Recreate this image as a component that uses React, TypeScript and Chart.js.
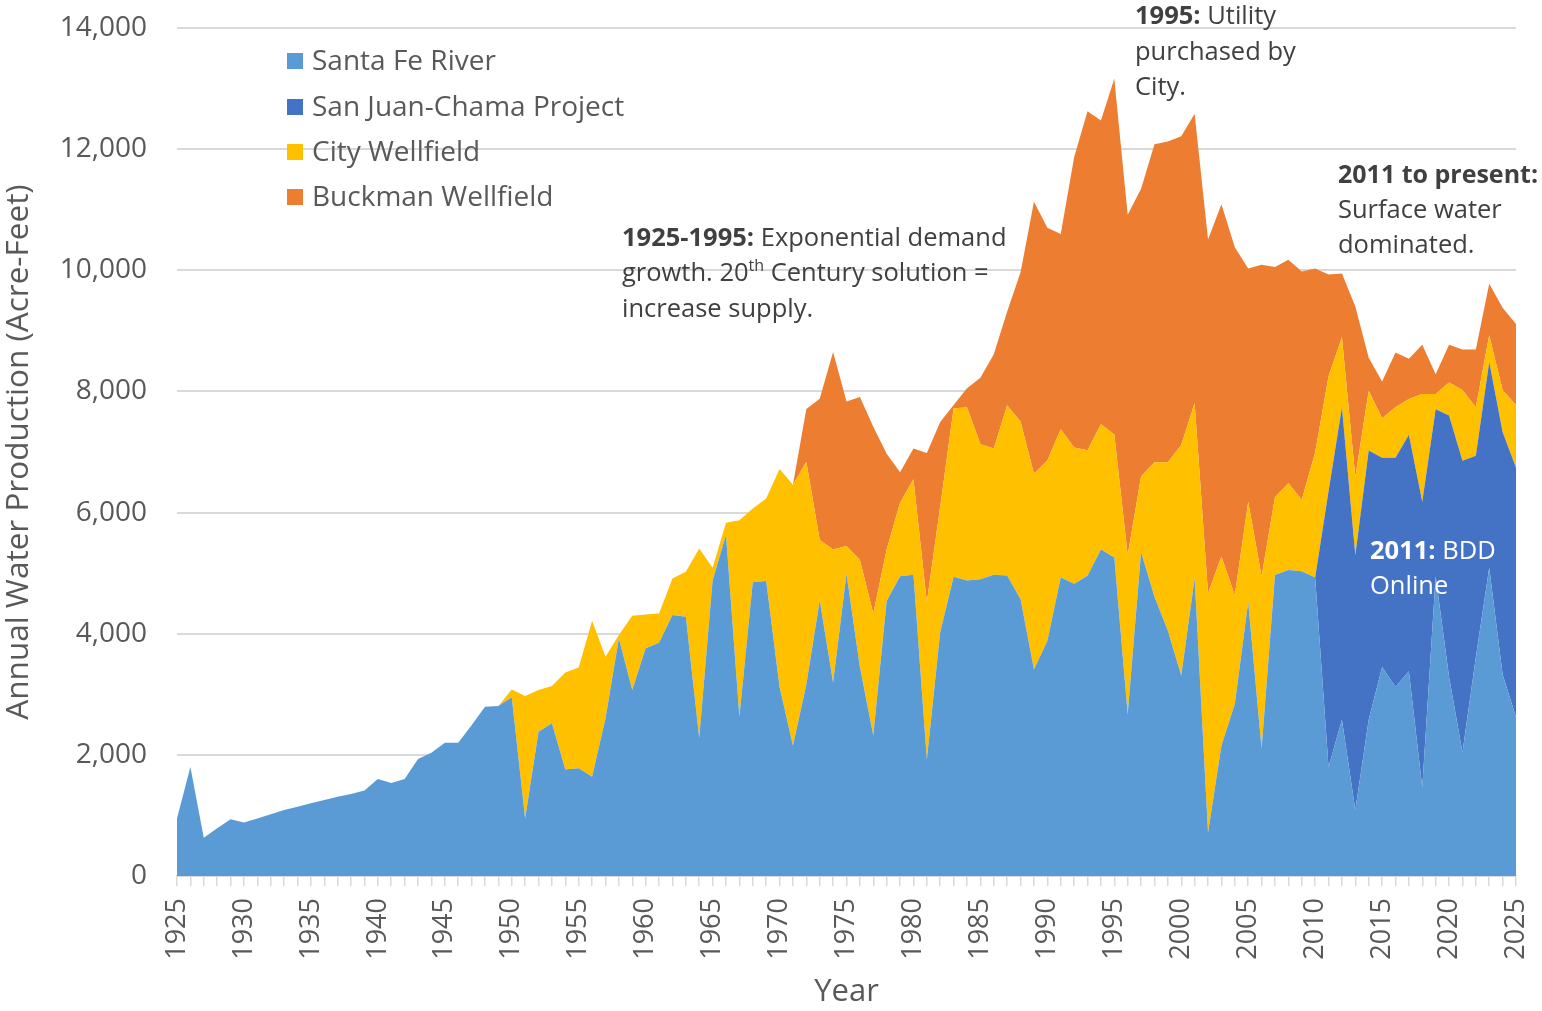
import React, { useEffect, useRef } from "react";
import { Chart, registerables } from "chart.js";

Chart.register(...registerables);

const years: string[] = [];
for (let y = 1925; y <= 2025; y++) years.push(String(y));

// Santa Fe River (acre-feet), 1925-2025
const santaFeRiver = [
  950, 1800, 630, 790, 935, 885, 950, 1020, 1090, 1145,
  1200, 1255, 1310, 1355, 1410, 1600, 1535, 1600, 1930, 2035,
  2200, 2200, 2490, 2795, 2805, 2950, 950, 2380, 2520, 1760,
  1780, 1640, 2600, 3920, 3070, 3760, 3850, 4310, 4280, 2280,
  4880, 5630, 2630, 4850, 4870, 3120, 2150, 3160, 4550, 3190,
  4985, 3450, 2320, 4540, 4950, 4975, 1920, 4030, 4940, 4880,
  4900, 4975, 4960, 4570, 3410, 3880, 4930, 4825, 4955, 5390,
  5260, 2665, 5345, 4610, 4050, 3310, 4910, 720, 2150, 2840,
  4520, 2100, 4970, 5050, 5030, 4930, 1800, 2580, 1090, 2580,
  3450, 3120, 3380, 1460, 4950, 3290, 2040, 3610, 5090, 3330,
  2620,
];

// San Juan-Chama Project (acre-feet), 2010-2025 (zero before)
const sanJuanChamaRecent = [
  0, 4550, 5160, 4205, 4446, 3454, 3784, 3905, 4718, 2756, 4314, 4816, 3329, 3397, 4002, 4121,
];

// City Wellfield (acre-feet), 1949-2025 (zero before)
const cityWellfieldRecent = [
  0, 130, 2020, 690, 615, 1600, 1663, 2573, 1019, 57, 1226,
  558, 485, 602, 742, 3127, 208, 200, 3245, 1217, 1362,
  3600, 4310, 3678, 998, 2201, 464, 1768, 2012, 851, 1212,
  1575, 2603, 2070, 2784, 2856, 2229, 2084, 2810, 2930, 3230,
  2980, 2444, 2248, 2075, 2070, 2029, 2635, 1252, 2220, 2780,
  3806, 2897, 3950, 3126, 1795, 1660, 2850, 1285, 1434, 1183,
  2063, 1901, 1155, 1291, 985, 652, 835, 591, 1779, 251,
  543, 1169, 800, 442, 693, 1033,
];

// Buckman Wellfield (acre-feet), 1971-2025 (zero before)
const buckmanRecent = [
  0, 870, 2333, 3259, 2386, 2691, 3086, 1581, 503, 509,
  2461, 1394, 50, 318, 1098, 1556, 1548, 2467, 4492, 3841,
  3223, 4793, 5597, 5012, 5874, 5616, 4751, 5252, 5295, 5097,
  4777, 5840, 5813, 5746, 3850, 5140, 3798, 3688, 3768, 3035,
  1678, 1053, 2818, 544, 606, 905, 665, 815, 327, 625,
  666, 952, 848, 1358, 1338,
];

const yTicks = [0, 2000, 4000, 6000, 8000, 10000, 12000, 14000];

const padFront = (arr: number[]) =>
  new Array(years.length - arr.length).fill(0).concat(arr);

const sanJuanChama = padFront(sanJuanChamaRecent);
const cityWellfield = padFront(cityWellfieldRecent);
const buckman = padFront(buckmanRecent);

const seriesNames = ["Santa Fe River", "San Juan-Chama Project", "City Wellfield", "Buckman Wellfield"];
const seriesColors = ["#5B9BD5", "#4472C4", "#FFC000", "#ED7D31"];

const FONT = "'Open Sans', 'DejaVu Sans', sans-serif";

type Run = { text: string; bold?: boolean; sup?: boolean };

function drawRuns(ctx: CanvasRenderingContext2D, x: number, y: number, runs: Run[], size: number, color: string) {
  let cx = x;
  ctx.fillStyle = color;
  ctx.textBaseline = "middle";
  ctx.textAlign = "left";
  for (const r of runs) {
    const s = r.sup ? Math.round(size * 0.62) : size;
    ctx.font = `${r.bold ? "bold " : ""}${s}px ${FONT}`;
    const dy = r.sup ? -size * 0.3 : 0;
    ctx.fillText(r.text, cx, y + dy);
    cx += ctx.measureText(r.text).width;
  }
}

const overlayPlugin = {
  id: "overlay",
  afterDatasetsDraw(chart: any) {
    const ctx = chart.ctx as CanvasRenderingContext2D;
    ctx.save();
    // legend
    const legendY = [61, 107, 152, 197];
    seriesNames.forEach((name, i) => {
      ctx.fillStyle = seriesColors[i];
      ctx.fillRect(287, legendY[i] - 8, 16, 16);
      ctx.fillStyle = "#595959";
      ctx.font = `28px ${FONT}`;
      ctx.textBaseline = "middle";
      ctx.textAlign = "left";
      ctx.fillText(name, 312, legendY[i] + 1);
    });
    const dark = "#404040";
    const fs = 25.5;
    drawRuns(ctx, 622, 239, [{ text: "1925-1995:", bold: true }, { text: " Exponential demand" }], fs, dark);
    drawRuns(ctx, 622, 274, [{ text: "growth. 20" }, { text: "th", sup: true }, { text: " Century solution =" }], fs, dark);
    drawRuns(ctx, 622, 310, [{ text: "increase supply." }], fs, dark);

    drawRuns(ctx, 1135, 17, [{ text: "1995:", bold: true }, { text: " Utility" }], fs, dark);
    drawRuns(ctx, 1135, 53, [{ text: "purchased by" }], fs, dark);
    drawRuns(ctx, 1135, 88, [{ text: "City." }], fs, dark);

    drawRuns(ctx, 1338, 176, [{ text: "2011 to present:", bold: true }], 25, dark);
    drawRuns(ctx, 1338, 211, [{ text: "Surface water" }], fs, dark);
    drawRuns(ctx, 1338, 246, [{ text: "dominated." }], fs, dark);

    drawRuns(ctx, 1370, 552, [{ text: "2011:", bold: true }, { text: " BDD" }], fs, "#FFFFFF");
    drawRuns(ctx, 1370, 587, [{ text: "Online" }], fs, "#FFFFFF");
    ctx.restore();
  },
};

export default function App() {
  const ref = useRef<HTMLCanvasElement | null>(null);

  useEffect(() => {
    if (!ref.current) return;
    const allData = [santaFeRiver, sanJuanChama, cityWellfield, buckman];
    const chart = new Chart(ref.current, {
      type: "line",
      data: {
        labels: years,
        datasets: allData.map((d, i) => ({
          label: seriesNames[i],
          data: d,
          backgroundColor: seriesColors[i],
          borderColor: seriesColors[i],
          borderWidth: 0,
          pointRadius: 0,
          tension: 0,
          fill: i === 0 ? "origin" : "-1",
        })),
      },
      options: {
        responsive: false,
        animation: false,
        layout: { padding: { top: 28, right: 26, left: 0, bottom: 0 } },
        plugins: {
          legend: { display: false },
          tooltip: { enabled: false },
        },
        scales: {
          x: {
            type: "category",
            offset: false,
            stacked: true,
            afterFit: (s: any) => {
              s.height = 135;
              s.paddingLeft = 0;
              s.paddingRight = 0;
              s.paddingTop = 0;
              s.paddingBottom = 0;
            },
            border: { display: true, color: "#D9D9D9", width: 2 },
            grid: {
              drawOnChartArea: false,
              drawTicks: true,
              tickLength: 10,
              color: "#D9D9D9",
              lineWidth: 1.5,
            },
            ticks: {
              autoSkip: false,
              maxRotation: 90,
              minRotation: 90,
              padding: 12,
              color: "#595959",
              font: { family: FONT, size: 27 },
              callback: (_v: any, idx: number) => {
                const y = Number(years[idx]);
                return y % 5 === 0 ? years[idx] : "";
              },
            },
            title: {
              display: true,
              text: "Year",
              color: "#595959",
              font: { family: FONT, size: 31 },
              padding: { top: 0, bottom: 0 },
            },
          },
          y: {
            stacked: true,
            min: 0,
            max: 14000,
            afterFit: (s: any) => {
              s.width = 177;
              s.paddingLeft = 0;
              s.paddingRight = 0;
              s.paddingTop = 0;
              s.paddingBottom = 0;
            },
            afterBuildTicks: (s: any) => {
              s.ticks = yTicks.map((v) => ({ value: v }));
            },
            border: { display: false },
            grid: { color: "#D9D9D9", lineWidth: 2, drawTicks: false },
            ticks: {
              padding: 30,
              color: "#595959",
              font: { family: FONT, size: 28 },
              callback: (v: any) => Number(v).toLocaleString("en-US"),
            },
            title: {
              display: true,
              text: "Annual Water Production (Acre-Feet)",
              color: "#595959",
              font: { family: FONT, size: 31.5 },
              padding: { top: 0, bottom: 0 },
            },
          },
        },
      },
      plugins: [overlayPlugin],
    });
    return () => chart.destroy();
  }, []);

  return (
    <div style={{ position: "fixed", left: 0, top: 0, width: 1542, height: 1011, background: "#fff" }}>
      <canvas ref={ref} width={1542} height={1011} style={{ display: "block" }} />
    </div>
  );
}
